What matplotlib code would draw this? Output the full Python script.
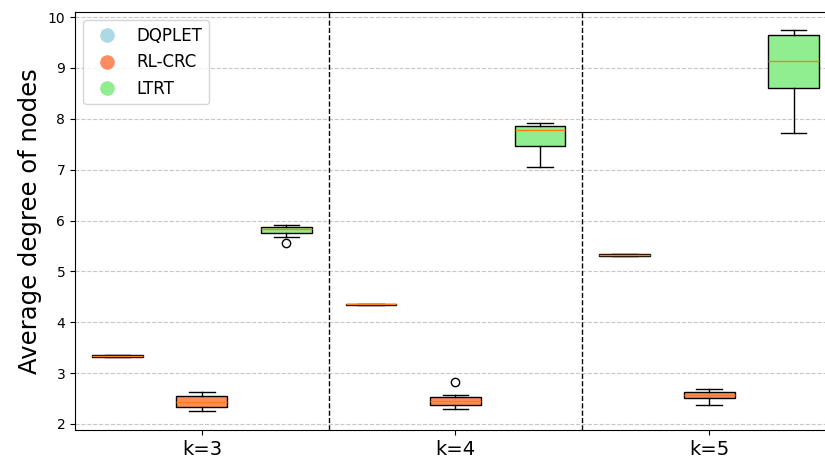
import matplotlib.pyplot as plt
from matplotlib.lines import Line2D

# k values on the x axis
groups = ['k=3', 'k=4', 'k=5']
methods = ['DQPLET', 'RL-CRC', 'LTRT']
colors = ['lightblue', '#ff8c60', 'lightgreen']

# box statistics per method, one entry per k
dqplet_q1 = [3.32, 4.33, 5.31]
dqplet_med = [3.34, 4.35, 5.33]
dqplet_q3 = [3.35, 4.36, 5.34]
dqplet_lo = [3.32, 4.33, 5.31]
dqplet_hi = [3.35, 4.36, 5.34]
dqplet_out = [[], [], []]

rlcrc_q1 = [2.33, 2.37, 2.51]
rlcrc_med = [2.43, 2.45, 2.57]
rlcrc_q3 = [2.54, 2.52, 2.63]
rlcrc_lo = [2.25, 2.30, 2.37]
rlcrc_hi = [2.63, 2.56, 2.69]
rlcrc_out = [[], [2.83], []]

ltrt_q1 = [5.76, 7.47, 8.61]
ltrt_med = [5.83, 7.78, 9.13]
ltrt_q3 = [5.88, 7.85, 9.65]
ltrt_lo = [5.67, 7.06, 7.73]
ltrt_hi = [5.91, 7.92, 9.74]
ltrt_out = [[5.55], [], []]

series = [
    (dqplet_q1, dqplet_med, dqplet_q3, dqplet_lo, dqplet_hi, dqplet_out),
    (rlcrc_q1, rlcrc_med, rlcrc_q3, rlcrc_lo, rlcrc_hi, rlcrc_out),
    (ltrt_q1, ltrt_med, ltrt_q3, ltrt_lo, ltrt_hi, ltrt_out),
]

fig = plt.figure(figsize=(8.25, 4.61), dpi=100)
ax = fig.add_axes([0.0909, 0.0672, 0.9224, 0.9067])

offsets = [-1 / 3, 0, 1 / 3]
width = 0.2

for m, (q1, med, q3, lo, hi, out) in enumerate(series):
    stats = []
    for g in range(len(groups)):
        stats.append({'q1': q1[g], 'med': med[g], 'q3': q3[g],
                      'whislo': lo[g], 'whishi': hi[g], 'fliers': out[g]})
    pos = [g + 1 + offsets[m] for g in range(len(groups))]
    bp = ax.bxp(stats, positions=pos, widths=width, patch_artist=True,
                manage_ticks=False)
    for box in bp['boxes']:
        box.set_facecolor(colors[m])

# separators between k groups
for x in [1.5, 2.5]:
    ax.axvline(x, color='black', linestyle='--', linewidth=1)

ax.set_xlim(0.5, 3.5)
ax.set_ylim(1.88, 10.1)
ax.set_xticks([1, 2, 3])
ax.set_xticklabels(groups, fontsize=14)
ax.set_yticks(range(2, 11))
ax.tick_params(axis='y', labelsize=10)
ax.set_ylabel('Average degree of nodes', fontsize=17.5)
ax.yaxis.grid(True, linestyle='--', alpha=0.7)
ax.set_axisbelow(True)

handles = [Line2D([0], [0], marker='o', color='w', markerfacecolor=c,
                  markersize=11.5, label=lab)
           for c, lab in zip(colors, methods)]
ax.legend(handles=handles, loc='upper left', fontsize=12)

plt.savefig('out.png')
